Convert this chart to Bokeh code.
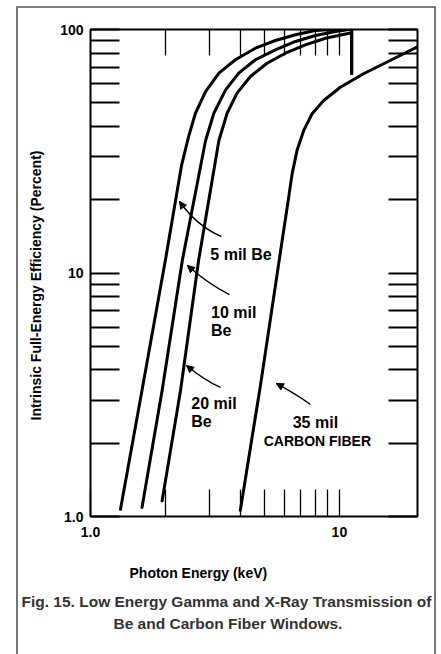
from bokeh.plotting import figure
from bokeh.models import (LogAxis, FixedTicker, Range1d, ColumnDataSource, Title,
                          Arrow, NormalHead)
from bokeh.embed import file_html
from bokeh.resources import INLINE
from bokeh.core.properties import value

# ---------------- data ----------------
# 5 mil Be window
be5_energy = [1.32, 1.61, 2.00, 2.32, 2.48, 2.64, 2.90, 3.28, 3.82, 4.60, 5.53, 6.66, 8.01, 9.35, 11.2, 11.2]
be5_eff = [1.07, 3.29, 11.3, 27.6, 36.4, 45.3, 55.6, 66.2, 75.1, 83.8, 90.1, 95.1, 99.1, 100, 100, 66]
# 10 mil Be window
be10_energy = [1.61, 1.94, 2.34, 2.90, 3.13, 3.49, 3.94, 4.60, 5.53, 6.66, 8.01, 9.64, 10.9, 11.2, 11.2]
be10_eff = [1.09, 3.29, 11.3, 35.0, 45.3, 56.5, 66.2, 75.1, 82.5, 89.3, 94.5, 98.1, 100, 100, 66]
# 20 mil Be window
be20_energy = [1.94, 2.30, 2.72, 3.28, 3.54, 3.88, 4.39, 5.12, 6.07, 7.30, 8.79, 10.25, 11.2, 11.2]
be20_eff = [1.16, 3.29, 11.3, 35.0, 45.3, 54.8, 64.1, 72.7, 79.9, 86.5, 92.1, 95.1, 97.0, 66]
# 35 mil carbon fiber window
c35_energy = [4.00, 4.83, 5.89, 6.17, 6.46, 6.76, 7.19, 7.77, 8.65, 10.09, 12.5, 16.0, 20.5]
c35_eff = [1.06, 3.51, 13.6, 18.6, 25.6, 31.9, 38.5, 45.1, 51.1, 57.9, 65.8, 74.6, 84.6]

x_tick_values = [1, 2, 3, 4, 5, 6, 7, 8, 9, 10]
x_tick_labels = {1: "1.0", 10: "10"}
top_tick_values = [2, 3, 4, 5, 6, 7, 8, 9, 10]
y_tick_values = [1, 2, 3, 4, 5, 6, 7, 8, 9, 10, 20, 30, 40, 50, 60, 70, 80, 90, 100]
y_tick_labels = {1: "1.0", 10: "10", 100: "100"}

curve_label_text = ["5 mil Be", "10 mil", "Be", "20 mil", "Be"]
curve_label_energy = [3.03, 3.05, 3.05, 2.54, 2.54]
curve_label_eff = [11.9, 6.90, 5.83, 2.90, 2.455]
carbon_label_text = ["35 mil"]
carbon_label_energy = [8.01]
carbon_label_eff = [2.44]
carbon_sub_text = ["CARBON FIBER"]
carbon_sub_energy = [8.16]
carbon_sub_eff = [2.05]

arrow_tail_e = [3.357, 3.615, 3.327, 7.647]
arrow_tail_p = [14.12, 8.16, 3.387, 2.884]
arrow_ctrl_e = [2.690, 2.951, 2.843, 6.72]
arrow_ctrl_p = [15.52, 9.06, 3.652, 3.17]
arrow_tip_e = [2.278, 2.453, 2.43, 5.585]
arrow_tip_p = [19.66, 10.74, 4.17, 3.518]

x_title = "Photon Energy (keV)"
y_title = "Intrinsic Full-Energy Efficiency (Percent)"
caption_1 = "Fig. 15.  Low Energy Gamma and X-Ray Transmission of"
caption_2 = "Be and Carbon Fiber Windows."

FONT = "Liberation Sans"

# ---------------- figure ----------------
p = figure(width=441, height=654, x_axis_type="log", y_axis_type="log",
           x_range=Range1d(1, 20.6), y_range=Range1d(1, 100),
           x_axis_location=None, y_axis_location=None,
           output_backend="svg", toolbar_location=None,
           min_border_left=90, min_border_right=24, min_border_top=29, min_border_bottom=138)
p.xgrid.visible = False
p.ygrid.visible = False
p.outline_line_color = "black"
p.outline_line_width = 2
p.background_fill_color = "white"
p.border_fill_color = None
# thin grey outer frame of the figure box (left, top and right edges)
p.styles = {
    "box-shadow": ("inset 16.2px 0 0 0 #ffffff, inset -5.2px 0 0 0 #ffffff, inset 0 6.2px 0 0 #ffffff, "
                   "inset 17.8px 0 0 0 #555555, inset -6.8px 0 0 0 #555555, inset 0 7.8px 0 0 #555555"),
}


def make_axis(ticks, labels, tick_len, tick_w, show_labels, standoff):
    ax = LogAxis(ticker=FixedTicker(ticks=ticks, minor_ticks=[]))
    ax.major_label_overrides = {float(t): labels.get(t, "") for t in ticks}
    ax.major_tick_in = tick_len
    ax.major_tick_out = 0
    ax.minor_tick_in = 0
    ax.minor_tick_out = 0
    ax.major_tick_line_width = tick_w
    ax.major_tick_line_color = "black"
    ax.axis_line_color = None
    ax.major_label_text_font = FONT
    ax.major_label_text_font_style = "bold"
    ax.major_label_text_color = "black"
    ax.major_label_text_font_size = "14px" if show_labels else "1px"
    ax.major_label_standoff = standoff
    return ax


def gap_axis(size):
    # blank axis (white tick on white) used only to reserve space between stacked panels
    ax = LogAxis(ticker=FixedTicker(ticks=[1.5], minor_ticks=[]))
    ax.major_label_overrides = {1.5: ""}
    ax.major_tick_in = 0
    ax.major_tick_out = size
    ax.minor_tick_in = 0
    ax.minor_tick_out = 0
    ax.major_tick_line_color = "white"
    ax.major_tick_line_width = 0.5
    ax.axis_line_color = None
    ax.major_label_text_font_size = "1px"
    ax.major_label_standoff = 0
    return ax


p.add_layout(make_axis(y_tick_values, y_tick_labels, 29, 1.8, True, 7), "left")
p.add_layout(make_axis(y_tick_values, {}, 29, 1.8, False, 0), "right")
p.add_layout(make_axis(x_tick_values, x_tick_labels, 27, 1.3, True, 10), "below")
p.add_layout(make_axis(top_tick_values, {}, 26, 1.3, False, 0), "above")

# ---------------- curves ----------------
for xs, ys in [(be5_energy, be5_eff), (be10_energy, be10_eff),
               (be20_energy, be20_eff), (c35_energy, c35_eff)]:
    p.line(xs, ys, line_color="black", line_width=3, line_join="round", line_cap="round")

# ---------------- arrows ----------------
arr = ColumnDataSource(dict(x0=arrow_tail_e, y0=arrow_tail_p, cx=arrow_ctrl_e, cy=arrow_ctrl_p,
                            x1=arrow_tip_e, y1=arrow_tip_p))
p.quadratic(x0="x0", y0="y0", x1="x1", y1="y1", cx="cx", cy="cy", source=arr,
            line_color="black", line_width=1.4)
p.add_layout(Arrow(end=NormalHead(size=7, fill_color="black", line_color="black", line_width=1),
                   x_start="cx", y_start="cy", x_end="x1", y_end="y1", source=arr,
                   line_color=None))

# ---------------- curve labels ----------------
p.text(x=curve_label_energy, y=curve_label_eff, text=curve_label_text,
       text_font=value(FONT), text_font_style="bold", text_font_size="16px",
       text_align="left", text_baseline="alphabetic", text_color="black")
p.text(x=carbon_label_energy, y=carbon_label_eff, text=carbon_label_text,
       text_font=value(FONT), text_font_style="bold", text_font_size="16px",
       text_align="center", text_baseline="alphabetic", text_color="black")
p.text(x=carbon_sub_energy, y=carbon_sub_eff, text=carbon_sub_text,
       text_font=value(FONT), text_font_style="bold", text_font_size="14px",
       text_align="center", text_baseline="alphabetic", text_color="black")


# ---------------- titles and caption as stacked side panels ----------------
def title(text, size, color="black", align="left", offset=0, standoff=0, valign="top"):
    return Title(text=text, align=align, offset=offset, standoff=standoff, vertical_align=valign,
                 text_font=FONT, text_font_style="bold", text_font_size=size, text_color=color)


p.add_layout(gap_axis(25), "below")
p.add_layout(title(x_title, "14px", offset=39), "below")
p.add_layout(gap_axis(10), "below")
p.add_layout(title(caption_1, "15.5px", color="#333333", offset=-69), "below")
p.add_layout(title(caption_2, "15.5px", color="#333333", offset=23, standoff=6), "below")

p.add_layout(title(y_title, "14px", offset=96, standoff=28, valign="bottom"), "left")

open("out.html", "w").write(file_html(p, INLINE))
